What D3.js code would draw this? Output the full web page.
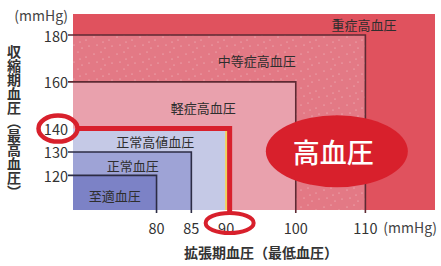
<!DOCTYPE html>
<html>
<head>
<meta charset="utf-8">
<script src="https://cdn.jsdelivr.net/npm/d3@7"></script>
<style>
  html, body { margin: 0; padding: 0; background: #fff; }
  text { font-family: "Noto Sans CJK JP", "Noto Sans", sans-serif; }
</style>
</head>
<body>
<div id="viz"></div>
<script>
/*** data ***/
const levels = ["至適血圧", "正常血圧", "正常高値血圧", "軽症高血圧", "中等症高血圧", "重症高血圧"];
const sysLimits = [120, 130, 140, 160, 180, 189];   // top of each zone (mmHg)
const diaLimits = [80, 85, 90, 100, 110, 120];      // right of each zone (mmHg)
const yTicks = [120, 130, 140, 160, 180];
const xTicks = [80, 85, 90, 100, 110];
const markedSys = 140;
const markedDia = 90;

/*** layout ***/
const width = 441, height = 266;
const zoneColors = ["#7c82c6", "#9ea3d6", "#c5c9e6", "#e9a1ad", "#e37985", "#e0525e"];
const borderColors = ["#2c2c44", "#2c2c44", null, "#5e2a33", "#5e2a33", null];
// label anchor for each zone, in (diastolic, systolic) units
const labelPos = [[74.0, 111.6], [76.6, 124.4], [79.8, 134.3], [86.7, 149.2], [94.4, 169.3], [109.8, 184.3]];
const red = "#d8202c";

const x = d3.scaleLinear().domain([68, 120]).range([73, 435]);
const y = d3.scaleLinear().domain([105.2, 189]).range([210, 14]);

const svg = d3.select("#viz").append("svg")
  .attr("width", width)
  .attr("height", height)
  .attr("viewBox", [0, 0, width, height]);

// speckle texture for the 中等症 zone
const pat = svg.append("defs").append("pattern")
  .attr("id", "speck")
  .attr("patternUnits", "userSpaceOnUse")
  .attr("width", 23).attr("height", 17);
pat.append("rect").attr("width", 23).attr("height", 17).attr("fill", zoneColors[4]);
[[2, 3], [9, 1], [17, 6], [5, 11], [13, 14], [20, 12], [11, 8]].forEach(p => {
  pat.append("circle").attr("cx", p[0]).attr("cy", p[1]).attr("r", 0.55)
    .attr("fill", "#fff").attr("opacity", 0.6);
});

// zones, drawn from the outermost inwards
const zones = levels.map((name, i) => ({ name, i, sys: sysLimits[i], dia: diaLimits[i] })).reverse();

svg.append("g")
  .selectAll("rect")
  .data(zones)
  .join("rect")
  .attr("x", x(68))
  .attr("y", d => y(d.sys))
  .attr("width", d => x(d.dia) - x(68))
  .attr("height", d => y(105.2) - y(d.sys))
  .attr("fill", d => d.i === 4 ? "url(#speck)" : zoneColors[d.i]);

// zone borders (top + right), extended as ticks
const bordered = zones.filter(d => borderColors[d.i]);
svg.append("g")
  .selectAll("path")
  .data(bordered)
  .join("path")
  .attr("d", d => `M${x(68) - 5},${y(d.sys)}H${x(d.dia)}V${y(105.2) + 3}`)
  .attr("fill", "none")
  .attr("stroke", d => borderColors[d.i])
  .attr("stroke-width", 1.6);

// zone labels
svg.append("g")
  .selectAll("text")
  .data(levels)
  .join("text")
  .attr("x", (d, i) => x(labelPos[i][0]))
  .attr("y", (d, i) => y(labelPos[i][1]))
  .attr("text-anchor", "middle")
  .attr("dominant-baseline", "central")
  .attr("font-size", 13)
  .attr("fill", "#2e2e2e")
  .text(d => d);

// yellow edge + red boundary of the 140/90 line
svg.append("line")
  .attr("x1", x(markedDia)).attr("x2", x(markedDia))
  .attr("y1", y(markedSys)).attr("y2", y(105.2))
  .attr("stroke", "#f2d35a").attr("stroke-width", 2);

const lx = 80, ly = 224;
svg.append("path")
  .attr("d", `M${lx - 3},${y(markedSys)}H${x(markedDia) + 3.5}V${ly - 11}`)
  .attr("fill", "none")
  .attr("stroke", red)
  .attr("stroke-width", 5);

// big 高血圧 badge
svg.append("ellipse")
  .attr("cx", x(105.9)).attr("cy", y(130.3))
  .attr("rx", 71).attr("ry", 36)
  .attr("fill", red);
svg.append("text")
  .attr("x", x(105.4)).attr("y", y(130.3))
  .attr("text-anchor", "middle")
  .attr("dominant-baseline", "central")
  .attr("font-size", 27)
  .attr("font-weight", 500)
  .attr("fill", "#fff")
  .text("高血圧");

// y tick labels
svg.append("g")
  .selectAll("text")
  .data(yTicks)
  .join("text")
  .attr("x", 68)
  .attr("y", d => y(d))
  .attr("text-anchor", "end")
  .attr("dominant-baseline", "central")
  .attr("font-size", 14.5)
  .attr("fill", "#333")
  .text(d => d);

svg.append("text")
  .attr("x", 68).attr("y", 15)
  .attr("text-anchor", "end")
  .attr("dominant-baseline", "central")
  .attr("font-size", 14)
  .attr("fill", "#444")
  .text("(mmHg)");

// x tick labels
svg.append("g")
  .selectAll("text")
  .data(xTicks)
  .join("text")
  .attr("x", d => x(d))
  .attr("y", 227)
  .attr("text-anchor", "middle")
  .attr("dominant-baseline", "central")
  .attr("font-size", 14.5)
  .attr("fill", "#333")
  .text(d => d);

svg.append("text")
  .attr("x", 437).attr("y", 227)
  .attr("text-anchor", "end")
  .attr("dominant-baseline", "central")
  .attr("font-size", 14)
  .attr("fill", "#444")
  .text("(mmHg)");

// red circles around the 140 and 90 labels
svg.append("ellipse")
  .attr("cx", 58).attr("cy", y(markedSys))
  .attr("rx", 19.5).attr("ry", 13)
  .attr("fill", "none").attr("stroke", red).attr("stroke-width", 4.5);
svg.append("ellipse")
  .attr("cx", x(markedDia) + 3.5).attr("cy", ly - 1)
  .attr("rx", 24).attr("ry", 10)
  .attr("fill", "none").attr("stroke", red).attr("stroke-width", 4);

// axis titles
svg.append("text")
  .attr("x", 261).attr("y", 252)
  .attr("text-anchor", "middle")
  .attr("dominant-baseline", "central")
  .attr("font-size", 14)
  .attr("font-weight", "bold")
  .attr("fill", "#333")
  .text("拡張期血圧（最低血圧）");

svg.append("text")
  .attr("x", 14).attr("y", 45)
  .attr("font-size", 14)
  .attr("font-weight", "bold")
  .attr("fill", "#333")
  .style("writing-mode", "vertical-rl")
  .style("text-orientation", "upright")
  .text("収縮期血圧（最高血圧）");
</script>
</body>
</html>
